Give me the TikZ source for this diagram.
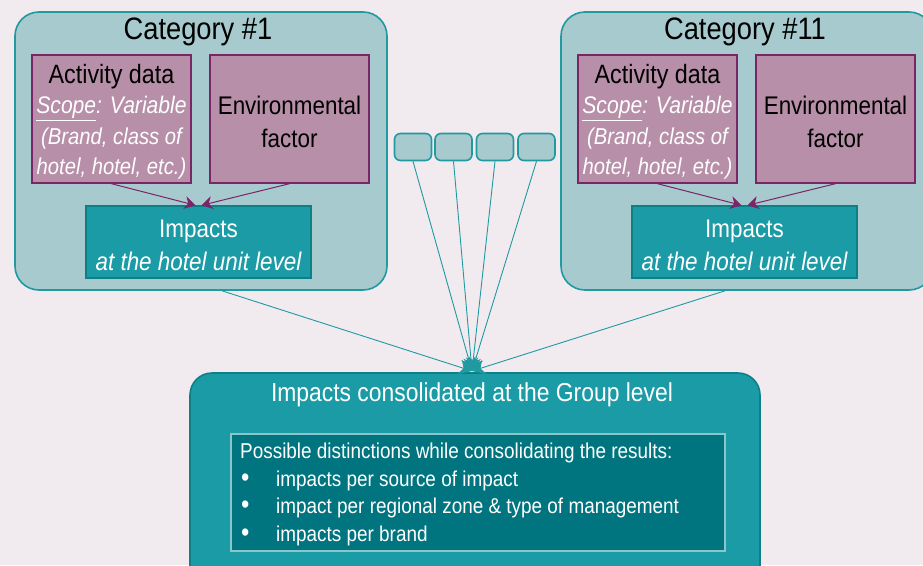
\documentclass[tikz,border=0pt]{standalone}
\usepackage{fontspec}
\setmainfont[FakeStretch=0.88]{Liberation Sans}
\usetikzlibrary{arrows.meta}
\definecolor{bg}{HTML}{F1EBEF}
\definecolor{catfill}{HTML}{A7CACF}
\definecolor{catdraw}{HTML}{2099A1}
\definecolor{purfill}{HTML}{B78FA9}
\definecolor{purdraw}{HTML}{7B2466}
\definecolor{impfill}{HTML}{1B9BA5}
\definecolor{impdraw}{HTML}{0F7F87}
\definecolor{innerfill}{HTML}{00757F}
\definecolor{innerdraw}{HTML}{8CC6CA}
\tikzset{
  x=1pt,y=1pt,
  catbox/.style={draw=catdraw,fill=catfill,line width=1.6pt,rounded corners=24pt,minimum width=#1,minimum height=278pt,inner sep=0pt},
  purbox/.style={draw=purdraw,fill=purfill,line width=1.4pt,minimum width=159pt,minimum height=128pt,inner sep=0pt},
  purtext/.style={align=center,inner sep=0pt,font=\fontsize{24}{30.5}\selectfont},
  imptext/.style={align=center,inner sep=0pt,text=white,font=\fontsize{25.5}{33}\selectfont},
  impbox/.style={draw=impdraw,fill=impfill,line width=1.4pt,minimum width=225pt,minimum height=72pt,inner sep=0pt},
  smallbox/.style={draw=catdraw,fill=catfill,line width=1.6pt,rounded corners=6pt,minimum width=37pt,minimum height=27pt,inner sep=0pt},
  purarrow/.style={draw=purdraw,line width=1pt,-{Stealth[length=11pt,width=13pt]}},
  tealarrow/.style={draw=catdraw,line width=0.9pt,-{Stealth[length=13pt,width=15pt]}},
  cattitle/.style={font=\fontsize{31}{34}\selectfont,text=black},
}
\newcommand{\actcontent}{{\fontsize{26.5}{30.5}\selectfont Activity data}\\
  {\color{white}\itshape\underline{Scope}: Variable}\\
  {\color{white}\fontsize{23}{30.5}\selectfont\itshape (Brand, class of}\\
  {\color{white}\fontsize{23}{30.5}\selectfont\itshape hotel, hotel, etc.)}}
\newcommand{\mybul}{\makebox[36pt][l]{\hspace{1pt}{\fontsize{27}{27.5}\selectfont\textbullet}}}
\begin{document}
\begin{tikzpicture}
\useasboundingbox (0,0) rectangle (923,-565);
\clip (0,0) rectangle (923,-565);
\fill[bg] (0,0) rectangle (923,-565);

% Category 1
\node[catbox=372pt] (cat1) at (201,-151) {};
\node[cattitle] (t1) at (198,-32) {Category \#1};
\node[purbox] (act1) at (111.5,-119) {};
\node[purtext] (act1t) at (111.5,-122) {\actcontent};
\node[purbox] (env1) at (289.5,-119) {};
\node[purtext,font=\fontsize{25.5}{33}\selectfont] (env1t) at (289.5,-122) {Environmental\\factor};
\node[impbox] (imp1) at (198.5,-242) {};
\node[imptext] (imp1t) at (198.5,-245) {Impacts\\{\itshape at the hotel unit level}};
\draw[purarrow] (act1.south) -- ([xshift=-3pt]imp1.north);
\draw[purarrow] (env1.south) -- ([xshift=3pt]imp1.north);

% Category 11
\node[catbox=372pt] (cat11) at (747,-151) {};
\node[cattitle] (t11) at (745,-32) {Category \#11};
\node[purbox] (act11) at (657.5,-119) {};
\node[purtext] (act11t) at (657.5,-122) {\actcontent};
\node[purbox] (env11) at (835.5,-119) {};
\node[purtext,font=\fontsize{25.5}{33}\selectfont] (env11t) at (835.5,-122) {Environmental\\factor};
\node[impbox] (imp11) at (744.5,-242) {};
\node[imptext] (imp11t) at (744.5,-245) {Impacts\\{\itshape at the hotel unit level}};
\draw[purarrow] (act11.south) -- ([xshift=-3pt]imp11.north);
\draw[purarrow] (env11.south) -- ([xshift=3pt]imp11.north);

% small boxes
\node[smallbox] (s1) at (413,-147) {};
\node[smallbox] (s2) at (453.5,-147) {};
\node[smallbox] (s3) at (495,-147) {};
\node[smallbox] (s4) at (536.5,-147) {};

% bottom box
\node[draw=impdraw,fill=impfill,line width=1.6pt,rounded corners=22pt,minimum width=570pt,minimum height=230pt,inner sep=0pt] (bot) at (475,-488) {};
\node[text=white,font=\fontsize{26}{30}\selectfont] (bt) at (472,-395) {Impacts consolidated at the Group level};
\node[draw=innerdraw,fill=innerfill,line width=1.4pt,minimum width=494pt,minimum height=117pt,inner sep=0pt] (inner) at (478,-492.5) {};
\node[anchor=north west,text=white,align=left,font=\fontsize{21.5}{27.5}\selectfont,inner sep=0pt] (list) at (240,-443) {Possible distinctions while consolidating the results:\\
\mybul impacts per source of impact\\
\mybul impact per regional zone \& type of management\\
\mybul impacts per brand};

% connectors
\coordinate (tgt) at (472,-371);
\draw[tealarrow] ([xshift=21pt]cat1.south) -- (tgt);
\draw[tealarrow] ([xshift=-22pt]cat11.south) -- (tgt);
\draw[tealarrow] (s1.south) -- (tgt);
\draw[tealarrow] (s2.south) -- (tgt);
\draw[tealarrow] (s3.south) -- (tgt);
\draw[tealarrow] (s4.south) -- (tgt);
\end{tikzpicture}
\end{document}
